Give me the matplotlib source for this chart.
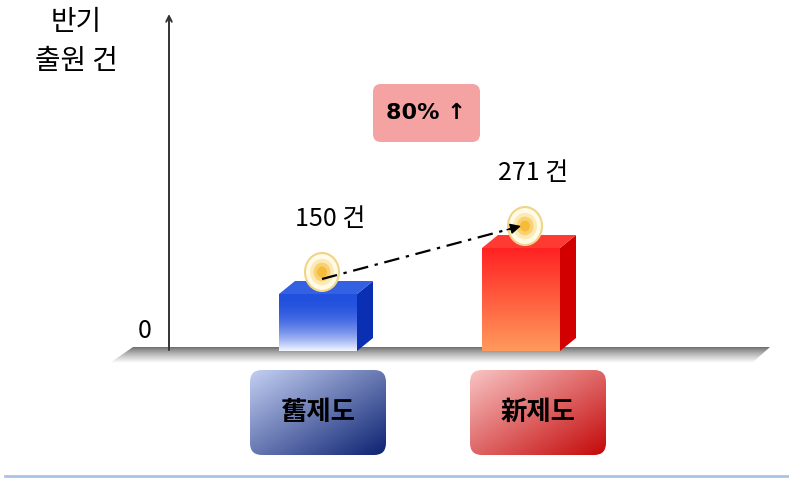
import numpy as np
import matplotlib

matplotlib.use("Agg")
import matplotlib.pyplot as plt
from matplotlib.patches import Polygon, FancyBboxPatch, Ellipse
from matplotlib.colors import to_rgb

plt.rcParams['font.family'] = ['Noto Sans CJK KR', 'DejaVu Sans']

# data
categories = ['舊제도', '新제도']
values = [150, 271]
value_labels = ['150 건', '271 건']
growth_label = '80% ↑'
y_title = ['반기', '출원 건']
zero_label = '0'

# colours per bar: front top, front bottom, side, top face
front_top = ['#2150de', '#ff2222']
front_bot = ['#f4f6ff', '#ff9a5c']
side_col = ['#0b2fb2', '#d20000']
top_col = ['#3460e2', '#ff3a32']
box_light = ['#c3cff2', '#f9c4c4']
box_dark = ['#0c2272', '#c40808']

# layout in pixels
W, H = 789, 482
floor_y = 351
k = 150 / 57  # data units per pixel
dx, dy = 16, 13  # 3d depth in px


def grad(c1, c2, n=128, diagonal=False, gamma=1.0):
    a, b = np.array(to_rgb(c1)), np.array(to_rgb(c2))
    if diagonal:
        u, v = np.meshgrid(np.linspace(0, 1, n), np.linspace(0, 1, n))
        t = (u + v) / 2
    else:
        t = np.linspace(0, 1, n)[:, None] * np.ones((1, 2))
    t = t ** gamma
    return a * (1 - t[..., None]) + b * t[..., None]


fig = plt.figure(figsize=(7.89, 4.82), dpi=100)
deco = fig.add_axes([0, 0, 1, 1])
ax = fig.add_axes([0, 0, 1, 1], zorder=2)
ax.patch.set_alpha(0)

# floor
floor = Polygon([(133, 347), (770, 347), (752, 363), (110, 363)], closed=True,
                facecolor='none', edgecolor='none')
deco.add_patch(floor)
deco.imshow(grad('#6a6a6a', '#ffffff', gamma=0.8), extent=[110, 770, 363, 347], origin='upper',
            aspect='auto', clip_path=floor, zorder=1)

# y axis
deco.annotate('', xy=(169, 14), xytext=(169, 350),
              arrowprops=dict(arrowstyle='->', color='#333333', lw=1.4, shrinkA=0, shrinkB=0))
deco.text(145, 331, zero_label, fontsize=18, ha='center', va='center')
deco.text(76, 22, y_title[0], fontsize=20, ha='center', va='center')
deco.text(76, 61, y_title[1], fontsize=20, ha='center', va='center')

# growth box
gbox = FancyBboxPatch((373, 84), 107, 58, boxstyle='round,pad=0,rounding_size=8',
                      facecolor='#f4a2a2', edgecolor='none')
deco.add_patch(gbox)
deco.text(426, 113, growth_label, fontsize=16, fontweight='heavy', ha='center', va='center',
          family=['DejaVu Sans'])

# category boxes
box_x = [250, 470]
for i, cat in enumerate(categories):
    b = FancyBboxPatch((box_x[i], 370), 136, 85, boxstyle='round,pad=0,rounding_size=12',
                       facecolor='none', edgecolor='none')
    deco.add_patch(b)
    deco.imshow(grad(box_light[i], box_dark[i], diagonal=True),
                extent=[box_x[i], box_x[i] + 136, 455, 370], origin='upper',
                aspect='auto', clip_path=b, zorder=1)
    deco.text(box_x[i] + 68, 412, cat, fontsize=19, fontweight='bold', ha='center', va='center')

# bottom rule
deco.plot([5, W], [476, 476], color='#a9c4e4', lw=2)

deco.set_xlim(0, W)
deco.set_ylim(H, 0)
deco.axis('off')

# bars
bar_x = [318, 521]
bar_w = 78
bars = ax.bar(bar_x, values, width=bar_w, color='none', edgecolor='none')
gammas = [2.2, 1.0]
glows = []
for i, rect in enumerate(bars):
    x0 = rect.get_x()
    x1 = x0 + rect.get_width()
    h = rect.get_height()
    ax.imshow(grad(front_top[i], front_bot[i], gamma=gammas[i])[::-1], extent=[x0, x1, 0, h],
              origin='lower', aspect='auto', clip_path=rect, zorder=3)
    ax.add_patch(Polygon([(x1, 0), (x1 + dx, dy * k), (x1 + dx, h + dy * k), (x1, h)],
                         facecolor=side_col[i], edgecolor='none', zorder=3))
    ax.add_patch(Polygon([(x0, h), (x1, h), (x1 + dx, h + dy * k), (x0 + dx, h + dy * k)],
                         facecolor=top_col[i], edgecolor='none', zorder=3))
    # glow marker
    gx, gy = bar_x[i] + 4, h + 22 * k
    glows.append((gx, gy))
    ax.add_patch(Ellipse((gx, gy), 34, 38 * k, facecolor='#fffbe6', edgecolor='#f0d488',
                         lw=1.5, zorder=4))
    for s, a in [(24, 0.25), (17, 0.45), (10, 0.75)]:
        ax.add_patch(Ellipse((gx, gy), s, s * 1.1 * k, facecolor='#f6b424', edgecolor='none',
                             alpha=a, zorder=4))
    ax.text(bar_x[i] + 12, h + 75 * k, value_labels[i], fontsize=18, ha='center', va='center')

# dash-dot arrow between the tops
(sx, sy), (ex, ey) = glows
sy -= 7 * k
ex -= 4
ax.plot([sx, ex - 10], [sy, ey - (ey - sy) * 10 / (ex - sx)], color='black', lw=1.6,
        ls=(0, (7, 3, 1.5, 3)), zorder=5)
ax.annotate('', xy=(ex, ey), xytext=(ex - 14, ey - (ey - sy) * 14 / (ex - sx)),
            arrowprops=dict(arrowstyle='-|>', color='black', lw=1, mutation_scale=16,
                            shrinkA=0, shrinkB=0), zorder=5)

ax.set_xlim(0, W)
ax.set_ylim(-(H - floor_y) * k, floor_y * k)
ax.axis('off')

fig.savefig('out.png', dpi=100, facecolor='white')
